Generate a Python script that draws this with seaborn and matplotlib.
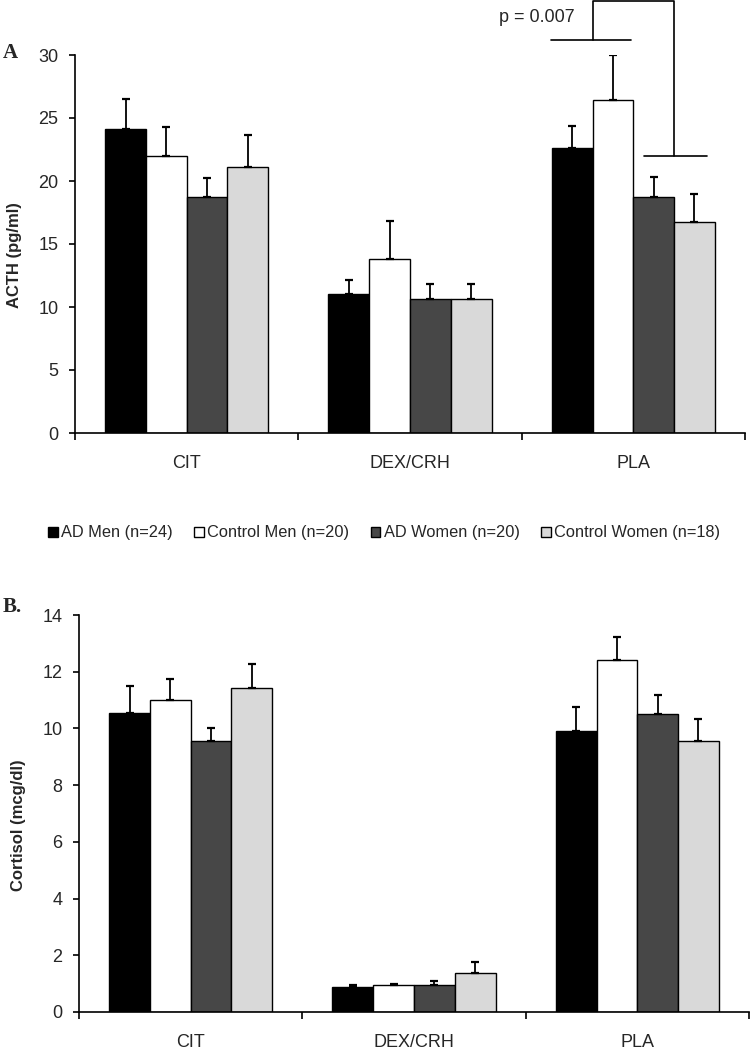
import numpy as np
import pandas as pd
import matplotlib
matplotlib.use("Agg")
import matplotlib.pyplot as plt
import seaborn as sns

conditions = ["CIT", "DEX/CRH", "PLA"]
groups = ["AD Men (n=24)", "Control Men (n=20)", "AD Women (n=20)", "Control Women (n=18)"]
colors = ["#000000", "#ffffff", "#474747", "#d9d9d9"]

# ACTH (pg/ml): mean and upper error bar length, per group, per condition
acth_mean = {
    "AD Men (n=24)": [24.1, 11.05, 22.65],
    "Control Men (n=20)": [22.0, 13.8, 26.4],
    "AD Women (n=20)": [18.7, 10.6, 18.7],
    "Control Women (n=18)": [21.1, 10.6, 16.75],
}
acth_err = {
    "AD Men (n=24)": [2.4, 1.1, 1.7],
    "Control Men (n=20)": [2.3, 3.0, 3.6],
    "AD Women (n=20)": [1.5, 1.25, 1.6],
    "Control Women (n=18)": [2.55, 1.25, 2.2],
}
# Cortisol (mcg/dl)
cort_mean = {
    "AD Men (n=24)": [10.55, 0.89, 9.92],
    "Control Men (n=20)": [11.02, 0.94, 12.43],
    "AD Women (n=20)": [9.54, 0.94, 10.5],
    "Control Women (n=18)": [11.44, 1.36, 9.54],
}
cort_err = {
    "AD Men (n=24)": [0.93, 0.06, 0.82],
    "Control Men (n=20)": [0.74, 0.06, 0.79],
    "AD Women (n=20)": [0.46, 0.16, 0.67],
    "Control Women (n=18)": [0.83, 0.42, 0.78],
}
p_text = "p = 0.007"

sns.set_theme(style="white")
plt.rcParams["font.family"] = ["Liberation Sans", "DejaVu Sans"]

palette = dict(zip(groups, colors))


def long_df(means):
    rows = []
    for g in groups:
        for c, v in zip(conditions, means[g]):
            rows.append({"cond": c, "group": g, "value": v})
    return pd.DataFrame(rows)


fig = plt.figure(figsize=(7.5, 10.5), dpi=100)
ax1 = fig.add_axes([75 / 750, 1 - 433 / 1050, 670 / 750, 378 / 1050])
ax2 = fig.add_axes([79 / 750, 1 - 1012 / 1050, 670 / 750, 397 / 1050])


def draw(ax, means, errs, ylim, yticks, ylabel, legend):
    df = long_df(means)
    sns.barplot(data=df, x="cond", y="value", hue="group", order=conditions,
                hue_order=groups, palette=palette, width=0.73, edgecolor="black",
                linewidth=1.0, errorbar=None, ax=ax, legend=legend, saturation=1)
    for g, cont in zip(groups, ax.containers):
        xs = [p.get_x() + p.get_width() / 2 for p in cont]
        ys = means[g]
        e = errs[g]
        ax.errorbar(xs, ys, yerr=[np.zeros(len(e)), e], fmt="none", ecolor="black",
                    elinewidth=1.3, capsize=3.2, capthick=1.6, zorder=1)
    ax.set_xlim(-0.5, 2.5)
    ax.set_ylim(*ylim)
    ax.set_yticks(yticks)
    ax.set_yticklabels([str(t) for t in yticks])
    ax.set_xticks([-0.5, 0.5, 1.5, 2.5])
    ax.set_xticklabels([])
    ax.set_xticks(range(len(conditions)), minor=True)
    ax.set_xticklabels(conditions, minor=True)
    ax.tick_params(axis="x", which="major", length=5, width=1.2, direction="out",
                   bottom=True, color="black")
    ax.tick_params(axis="x", which="minor", length=0, pad=16, labelsize=13)
    ax.tick_params(axis="y", length=4, width=1.2, direction="out", left=True,
                   pad=8, labelsize=13, color="black")
    for s in ["top", "right"]:
        ax.spines[s].set_visible(False)
    for s in ["left", "bottom"]:
        ax.spines[s].set_color("black")
        ax.spines[s].set_linewidth(1.2)
    ax.set_xlabel("")
    ax.set_ylabel(ylabel, fontsize=12, fontweight="bold")
    ax.yaxis.set_label_coords(-0.079, 0.47)
    ax.grid(False)


draw(ax1, acth_mean, acth_err, (0, 30), [0, 5, 10, 15, 20, 25, 30], "ACTH (pg/ml)", True)
draw(ax2, cort_mean, cort_err, (0, 14), [0, 2, 4, 6, 8, 10, 12, 14], "Cortisol (mcg/dl)", False)

handles, labels = ax1.get_legend_handles_labels()
if ax1.legend_ is not None:
    ax1.legend_.remove()
fig.legend(handles, labels, loc="center", bbox_to_anchor=(384 / 750, 1 - 533 / 1050),
           ncol=4, frameon=False, fontsize=11.8, handlelength=0.6, handleheight=0.6,
           handletextpad=0.2, columnspacing=1.3)

# significance bracket on PLA
c0 = ax1.containers[0][2]
c1 = ax1.containers[1][2]
c2 = ax1.containers[2][2]
c3 = ax1.containers[3][2]
xl = c0.get_x() + c0.get_width()
xr = c2.get_x() + c2.get_width()
kw = dict(color="black", lw=1.2, clip_on=False)
ax1.plot([c0.get_x() - 0.005, c1.get_x() + c1.get_width() - 0.01], [31.2, 31.2], **kw)
ax1.plot([c2.get_x() + 0.05, c3.get_x() + c3.get_width() - 0.035], [22.0, 22.0], **kw)
ax1.plot([xl, xl, xr, xr], [31.2, 34.3, 34.3, 22.0], **kw)
ax1.text(1.735, 33.0, p_text, ha="right", va="center", fontsize=13, clip_on=False)

fig.text(3 / 750, 1 - 53 / 1050, "A", fontfamily="Liberation Serif", fontweight="bold",
         fontsize=15, ha="left", va="center")
fig.text(3 / 750, 1 - 607 / 1050, "B.", fontfamily="Liberation Serif", fontweight="bold",
         fontsize=15, ha="left", va="center")

fig.savefig("out.png", dpi=100, facecolor="white")
